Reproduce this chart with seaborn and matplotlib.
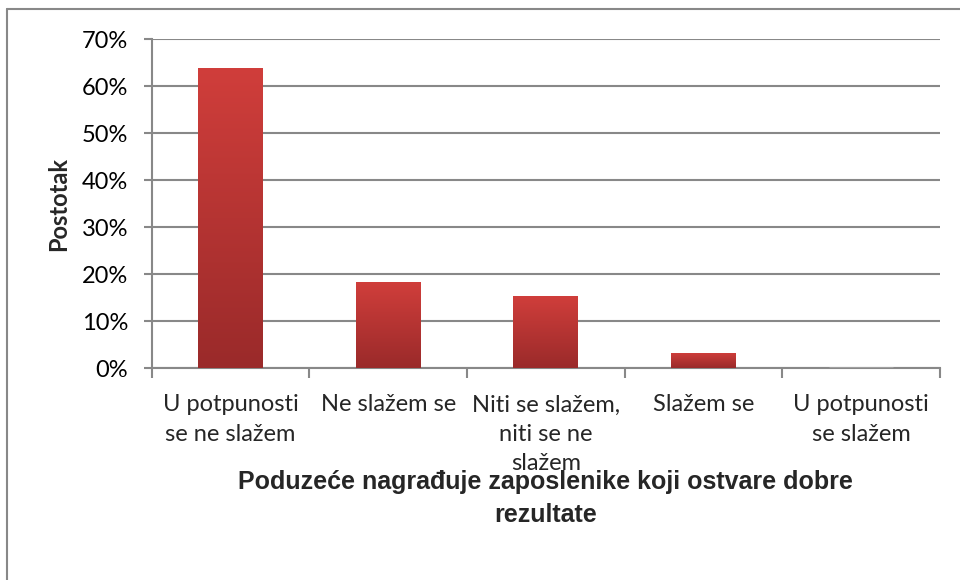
import numpy as np
import pandas as pd
import matplotlib
matplotlib.use("Agg")
import matplotlib.pyplot as plt
from matplotlib.colors import LinearSegmentedColormap
import seaborn as sns

# data
categories = ["U potpunosti\nse ne slažem", "Ne slažem se", "Niti se slažem,\nniti se ne\nslažem",
              "Slažem se", "U potpunosti\nse slažem"]
percent = [63.8, 18.3, 15.3, 3.2, 0.0]
y_ticks = [0, 10, 20, 30, 40, 50, 60, 70]
y_ticklabels = ["0%", "10%", "20%", "30%", "40%", "50%", "60%", "70%"]

df = pd.DataFrame({"kategorija": categories, "postotak": percent})

sns.set_style("white")
plt.rcParams["font.family"] = ["Lato", "DejaVu Sans"]

fig = plt.figure(figsize=(9.6, 5.8), dpi=100)
ax = fig.add_axes([0.158, 0.3655, 0.821, 0.567])

sns.barplot(data=df, x="kategorija", y="postotak", color="#c03533", width=0.41, ax=ax, zorder=3)

# vertical gradient fill for the bars (dark at bottom, light at top)
cmap = LinearSegmentedColormap.from_list("redgrad", ["#9a2a2a", "#d03e3b"])
grad = np.linspace(0, 1, 256).reshape(-1, 1)
for p in ax.patches:
    x0, y0 = p.get_x(), p.get_y()
    w, h = p.get_width(), p.get_height()
    if h <= 0:
        continue
    im = ax.imshow(grad, cmap=cmap, origin="lower", aspect="auto",
                   extent=[x0, x0 + w, y0, y0 + h], zorder=3)
    im.set_clip_path(p)
    p.set_facecolor("none")
    p.set_edgecolor("none")

ax.set_xlim(-0.5, 4.5)
ax.set_ylim(0, 70)

# gridlines
ax.set_yticks(y_ticks)
ax.set_yticklabels(y_ticklabels, fontsize=17, color="#000000")
ax.yaxis.grid(True, color="#888888", linewidth=1.5, zorder=0)
ax.set_axisbelow(True)

# category boundaries as major ticks, labels at minor ticks
ax.set_xticks(np.arange(-0.5, 5, 1.0))
ax.set_xticklabels([])
ax.set_xticks(range(len(categories)), minor=True)
ax.set_xticklabels(categories, minor=True, fontsize=17, linespacing=1.5, va="top")
ax.tick_params(axis="x", which="major", direction="out", length=7, width=1.5, color="#888888", bottom=True)
ax.tick_params(axis="x", which="minor", length=0, pad=19)
ax.tick_params(axis="y", direction="out", length=6, width=1.5, color="#888888", left=True, pad=11)

for s in ["top", "right"]:
    ax.spines[s].set_visible(False)
for s in ["left", "bottom"]:
    ax.spines[s].set_color("#888888")
    ax.spines[s].set_linewidth(1.5)

ax.set_ylabel("Postotak", fontsize=17, fontweight="bold", labelpad=8)
ax.set_xlabel("Poduzeće nagrađuje zaposlenike koji ostvare dobre\nrezultate",
              fontsize=18, fontweight="bold", family=["Liberation Sans", "DejaVu Sans"],
              labelpad=-3, linespacing=1.45)

# outer frame (only top and left edges visible in the reference)
fig.add_artist(plt.Line2D([0.007, 1.0], [0.984, 0.984], color="#888888", lw=1.5, transform=fig.transFigure))
fig.add_artist(plt.Line2D([0.007, 0.007], [0.0, 0.984], color="#888888", lw=1.5, transform=fig.transFigure))

fig.savefig("out.png", dpi=100, facecolor="white")
